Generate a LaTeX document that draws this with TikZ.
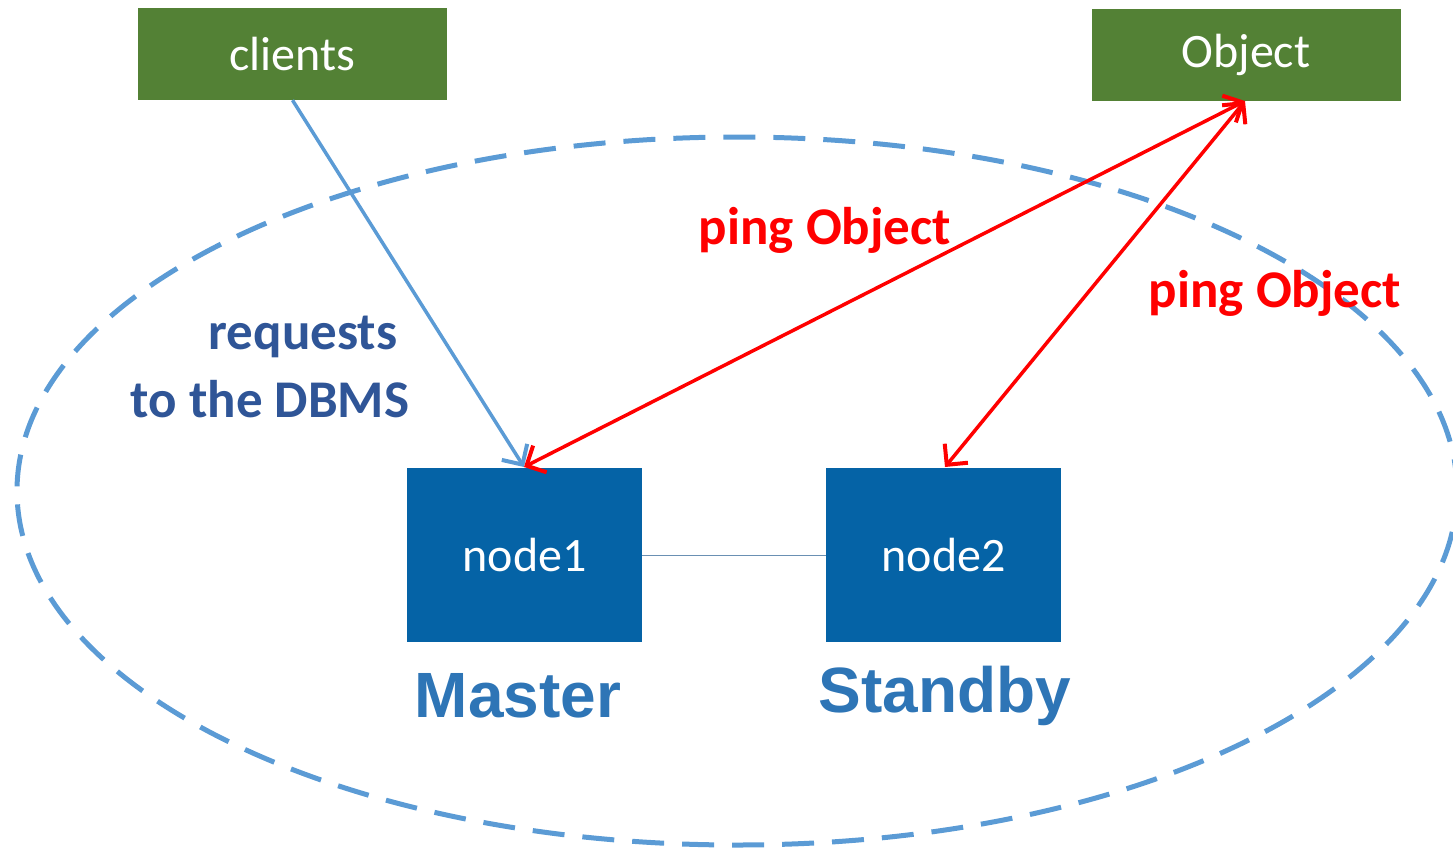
\documentclass[tikz,border=0pt]{standalone}
\usepackage{fontspec}
\setmainfont{Carlito}
\newfontfamily\arialfont{Liberation Sans}
\usetikzlibrary{arrows.meta}
\definecolor{boxgreen}{HTML}{538135}
\definecolor{nodeblue}{HTML}{0563A6}
\definecolor{lineblue}{HTML}{5B9BD5}
\definecolor{textblue}{HTML}{2F5597}
\definecolor{rolblue}{HTML}{2E75B6}
\definecolor{pingred}{HTML}{FF0000}
\tikzset{
  greenbox/.style={fill=boxgreen, text=white, minimum width=309pt, minimum height=92pt, inner sep=0pt, font=\fontsize{48}{56}\selectfont},
  hostbox/.style={fill=nodeblue, text=white, minimum width=235pt, minimum height=174pt, inner sep=0pt, font=\fontsize{48}{56}\selectfont},
  rolelabel/.style={text=rolblue, font=\arialfont\bfseries\fontsize{64}{74}\selectfont, inner sep=0pt},
  pinglabel/.style={text=pingred, font=\bfseries\fontsize{53}{60}\selectfont, inner sep=0pt},
  reqlabel/.style={text=textblue, font=\bfseries\fontsize{53}{60}\selectfont, inner sep=0pt},
  tip/.style={-{Straight Barb[length=15pt,width=30pt,line width=4pt]}},
  bothtips/.style={{Straight Barb[length=15pt,width=30pt,line width=4pt]}-{Straight Barb[length=15pt,width=30pt,line width=4pt]}},
}
\begin{document}
\begin{tikzpicture}[x=1pt,y=-1pt]
\useasboundingbox (0,0) rectangle (1453,849);
% cluster boundary
\draw[lineblue, line width=5pt, dash pattern=on 32pt off 18pt] (737,491) ellipse [x radius=720pt, y radius=354pt];
% outside boxes
\node[greenbox] (clients) at (292.5,54) {clients};
\node[greenbox] (object) at (1246,55) {Object};
% hosts
\node[hostbox] (node1) at (524.5,555) {node1};
\node[hostbox] (node2) at (943.5,555) {node2};
\draw[lineblue!60!gray, line width=1pt] (node1.east) -- (node2.west);
% roles
\node[rolelabel] (master) at (518,696) {Master};
\node[rolelabel] (standby) at (945,696) {Standby};
% connectors
\coordinate (n1top) at (524,467);
\coordinate (n2top) at (945,467);
\coordinate (objbot) at (1245,101);
\draw[lineblue, line width=3.5pt, tip] (clients.south) -- (n1top);
\draw[pingred, line width=3.5pt, bothtips] (n1top) -- (objbot);
\draw[pingred, line width=3.5pt, bothtips] (n2top) -- (objbot);
% labels
\node[pinglabel] (ping1) at (825,230) {ping Object};
\node[pinglabel] (ping2) at (1275,293) {ping Object};
\node[reqlabel] (req1) at (303,337) {requests};
\node[reqlabel] (req2) at (270,399) {to the DBMS};
\end{tikzpicture}
\end{document}
